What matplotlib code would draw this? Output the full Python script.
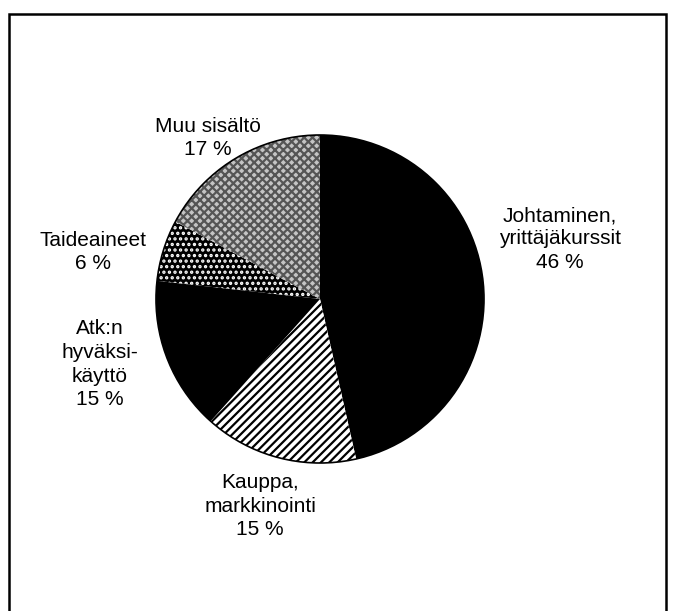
import matplotlib.pyplot as plt
from matplotlib.patches import Rectangle, Circle

plt.rcParams['font.family'] = ['Liberation Sans', 'DejaVu Sans']
plt.rcParams['hatch.linewidth'] = 1.6

# slices, clockwise from 12 o'clock
labels = ["Johtaminen,\nyrittäjäkurssit", "Kauppa,\nmarkkinointi",
          "Atk:n\nhyväksi-\nkäyttö", "Taideaineet", "Muu sisältö"]
shares = [46, 15, 15, 6, 17]

W, H = 673, 611
fig = plt.figure(figsize=(W / 100, H / 100), dpi=100)

# pie centre and radius in pixels
cx, cy, r = 320, 299, 164
ax = fig.add_axes([(cx - r) / W, (H - cy - r) / H, 2 * r / W, 2 * r / H])

faces = ['black', 'white', 'black', 'black', '#c4c4c4']
edges = ['black', 'black', 'black', 'white', '#555555']
hatches = [None, '////', None, '...', 'xxxx']

wedges, _ = ax.pie(shares, startangle=90, counterclock=False, radius=1,
                   colors=faces)
for w, ec, h in zip(wedges, edges, hatches):
    w.set_edgecolor(ec)
    w.set_linewidth(0)
    w.set_clip_on(False)
    if h:
        w.set_hatch(h)
ax.add_patch(Circle((0, 0), 1, fill=False, edgecolor='black', lw=1.2,
                    clip_on=False))
ax.set_xlim(-1, 1)
ax.set_ylim(-1, 1)
ax.set_aspect('equal')
ax.axis('off')

# label anchors: centre x, last-line baseline y (pixels)
pos = [(560, 268), (260, 535), (100, 405), (93, 269), (208, 155)]
for lab, val, (px, py) in zip(labels, shares, pos):
    ax.text((px - cx) / r, (cy - py) / r, f"{lab}\n{val} %",
            ha='center', va='baseline', multialignment='center',
            fontsize=15, linespacing=1.3)

fig.add_artist(Rectangle((9 / W, -0.05), (666 - 9) / W, 1.05 - 14 / H,
                         transform=fig.transFigure, fill=False,
                         edgecolor='black', lw=1.8))

fig.savefig('out.png', dpi=100)
